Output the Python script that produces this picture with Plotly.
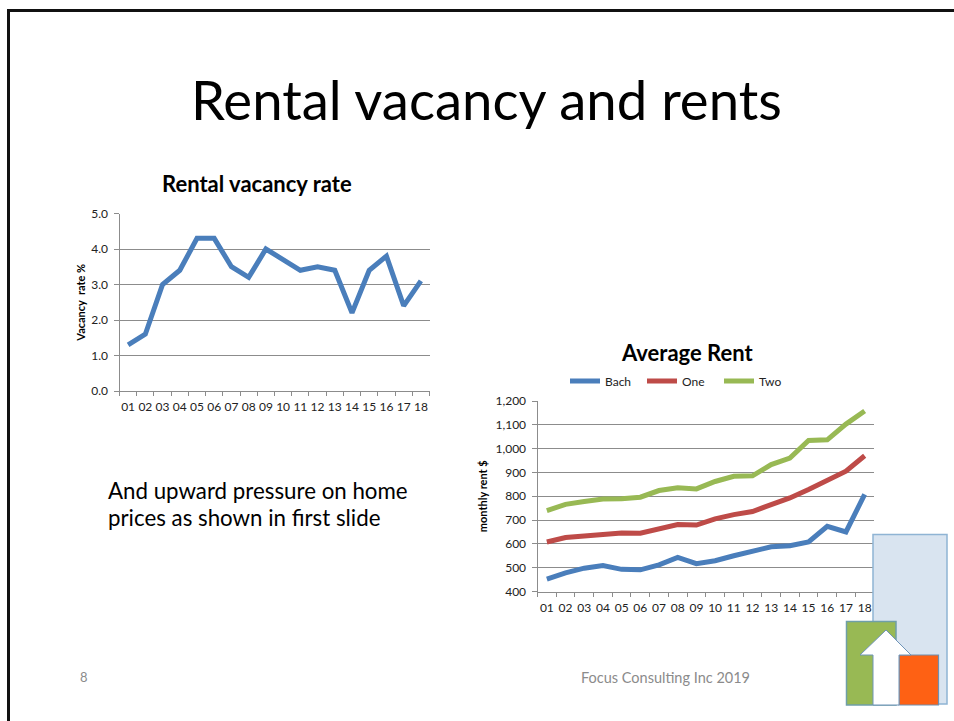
import plotly.graph_objects as go

W, H = 954, 721
years = ["01","02","03","04","05","06","07","08","09","10","11","12","13","14","15","16","17","18"]
vacancy = [1.3,1.6,3.0,3.4,4.3,4.3,3.5,3.2,4.0,3.7,3.4,3.5,3.4,2.2,3.4,3.8,2.4,3.1]
bach = [452,478,498,509,493,491,512,543,517,529,550,570,588,592,608,674,650,808]
one = [608,627,633,640,646,645,665,681,679,705,723,736,765,793,828,868,905,970]
two = [740,766,778,788,790,796,824,836,831,862,884,886,933,960,1034,1037,1103,1158]

BLUE, RED, GREEN = "#4a7ebb", "#be4b48", "#98b954"
FONT = "Lato"
GRID = "#8c8c8c"

def px(x): return x / W
def py(y): return 1 - y / H

fig = go.Figure()
fig.add_trace(go.Scatter(x=years, y=vacancy, mode="lines", xaxis="x", yaxis="y", showlegend=False,
                         line=dict(color=BLUE, width=5, shape="linear")))
for name, vals, col in [("Bach", bach, BLUE), ("One", one, RED), ("Two", two, GREEN)]:
    fig.add_trace(go.Scatter(x=years, y=vals, mode="lines", name=name, xaxis="x2", yaxis="y2",
                             line=dict(color=col, width=5)))

def xaxis(domain, anchor, size):
    return dict(domain=domain, anchor=anchor, type="category", range=[-0.5, 17.5], tickson="boundaries",
                ticks="outside", ticklen=4, tickcolor=GRID, showline=True, linecolor=GRID, linewidth=1,
                showgrid=False, tickfont=dict(family=FONT, size=size, color="#222222"), automargin=False,
                tickangle=0, ticklabelstandoff=5)

def yaxis(domain, anchor, rng, dtick, fmt, title, size, standoff):
    return dict(domain=domain, anchor=anchor, range=rng, dtick=dtick, tickformat=fmt, ticks="outside",
                ticklen=5, tickcolor=GRID, showline=True, linecolor=GRID, linewidth=1, showgrid=True,
                gridcolor=GRID, gridwidth=1, zeroline=False, automargin=False, ticklabelstandoff=3,
                tickfont=dict(family=FONT, size=size, color="#222222"),
                title=dict(text=title, font=dict(family=FONT, size=11, color="#000000", weight="bold"),
                           standoff=standoff))

shapes = [
    dict(type="line", xref="paper", yref="paper", x0=px(8.5), x1=px(8.5), y0=py(721), y1=py(9), line=dict(color="#111111", width=3)),
    dict(type="line", xref="paper", yref="paper", x0=px(7), x1=px(954), y0=py(10.5), y1=py(10.5), line=dict(color="#111111", width=3)),
    dict(type="rect", xref="paper", yref="paper", x0=px(873), x1=px(947), y0=py(534.5), y1=py(704),
         fillcolor="#d9e4f0", line=dict(color="#8fb4d4", width=1.5), layer="above"),
    dict(type="rect", xref="paper", yref="paper", x0=px(846.5), x1=px(896), y0=py(621.5), y1=py(705),
         fillcolor="#98b954", line=dict(color="#6f9fa8", width=1.5), layer="above"),
    dict(type="rect", xref="paper", yref="paper", x0=px(899), x1=px(938.5), y0=py(655), y1=py(705),
         fillcolor="#fe6114", line=dict(color="#6f8fb0", width=1.2), layer="above"),
    dict(type="path", xref="paper", yref="paper",
         path=f"M {px(886)} {py(630)} L {px(911)} {py(655)} L {px(899)} {py(655)} L {px(899)} {py(705)} "
              f"L {px(873)} {py(705)} L {px(873)} {py(655)} L {px(860)} {py(655)} Z",
         fillcolor="#ffffff", line=dict(color="#6f94b8", width=1), layer="above"),
]

def note(text, x, y, size, color="#000000", bold=False, xanchor="left"):
    return dict(text=text, xref="paper", yref="paper", x=px(x), y=py(y), xanchor=xanchor, yanchor="middle",
                showarrow=False, align="left",
                font=dict(family=FONT, size=size, color=color, weight="bold" if bold else "normal"))

annotations = [
    note("Rental vacancy and rents", 487, 99, 54.5, "#000000", xanchor="center"),
    note("Rental vacancy rate", 257, 183, 22, bold=True, xanchor="center"),
    note("Average Rent", 687, 352, 22, bold=True, xanchor="center"),
    note("And upward pressure on home", 106, 490, 22.3),
    note("prices as shown in first slide", 106, 517, 22.3),
    note("8", 78, 677, 13, "#8b8b8b"),
    note("Focus Consulting Inc 2019", 579, 677, 14.5, "#8b8b8b"),
]

fig.update_layout(
    width=W, height=H, margin=dict(l=0, r=0, t=0, b=0), paper_bgcolor="white", plot_bgcolor="white",
    xaxis=xaxis([px(119.5), px(429.5)], "y", 12),
    yaxis=yaxis([py(391), py(213.5)], "x", [0, 5], 1, ".1f", "Vacancy  rate %", 12, 3),
    xaxis2=xaxis([px(537.5), px(874)], "y2", 12),
    yaxis2=yaxis([py(591.5), py(401)], "x2", [400, 1200], 100, ",d", "monthly rent $", 12, 5),
    legend=dict(orientation="h", xref="paper", yref="paper", x=px(565), y=py(381), xanchor="left", yanchor="middle",
                font=dict(family=FONT, size=12, color="#222222"), itemwidth=30, tracegroupgap=0,
                entrywidth=32, entrywidthmode="pixels", bgcolor="rgba(0,0,0,0)"),
    shapes=shapes, annotations=annotations, showlegend=True,
)
fig.write_html("out.html", config=dict(displayModeBar=False),
               post_script="document.body.style.margin='0';document.documentElement.style.overflow='hidden';")
